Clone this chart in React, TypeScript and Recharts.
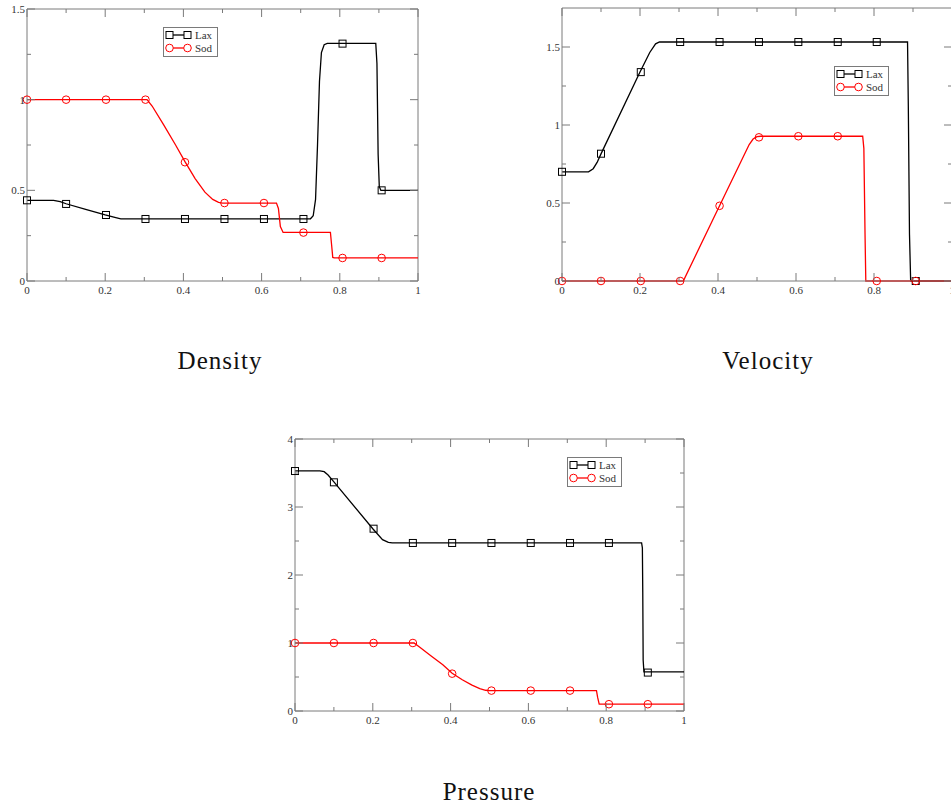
import React from 'react'
import { LineChart, Line, XAxis, YAxis, ReferenceLine } from 'recharts'

type Pt = [number, number]

const FRAME = '#7a7a7a'
const LABEL = '#333'
const FONT = '"Liberation Serif", "Times New Roman", serif'

const xTicks = [0, 0.1, 0.2, 0.3, 0.4, 0.5, 0.6, 0.7, 0.8, 0.9, 1]
const xLabels = [0, 0.2, 0.4, 0.6, 0.8, 1]

// x positions of the plotted symbols (same for every curve)
const markerX = [0, 0.1, 0.202, 0.303, 0.404, 0.505, 0.606, 0.707, 0.807, 0.907]

// Density
const densityYTicks = [0, 0.25, 0.5, 0.75, 1, 1.25, 1.5]
const densityYLabels = [0, 0.5, 1, 1.5]
const densityLax: Pt[] = [
  [0, 0.445], [0.068, 0.445], [0.085, 0.438], [0.1, 0.426], [0.15, 0.395], [0.2, 0.364],
  [0.222, 0.352], [0.24, 0.343], [0.725, 0.343], [0.732, 0.36], [0.738, 0.45], [0.743, 0.75],
  [0.748, 1.1], [0.753, 1.26], [0.76, 1.303], [0.768, 1.31], [0.892, 1.31], [0.895, 1.2],
  [0.898, 0.7], [0.901, 0.52], [0.905, 0.5], [1, 0.5],
]
const densitySod: Pt[] = [
  [0, 1], [0.307, 1], [0.32, 0.965], [0.35, 0.86], [0.38, 0.75], [0.404, 0.658],
  [0.43, 0.565], [0.455, 0.49], [0.475, 0.45], [0.49, 0.434], [0.5, 0.43], [0.638, 0.43],
  [0.643, 0.4], [0.648, 0.3], [0.655, 0.268], [0.776, 0.268], [0.779, 0.2], [0.782, 0.13],
  [0.786, 0.127], [1, 0.127],
]
const densityLaxMarks = [0.445, 0.425, 0.364, 0.342, 0.342, 0.342, 0.342, 0.342, 1.309, 0.5]
const densitySodMarks = [1, 1, 1, 1, 0.655, 0.43, 0.43, 0.267, 0.127, 0.127]

// Velocity
const velocityYTicks = [0, 0.25, 0.5, 0.75, 1, 1.25, 1.5]
const velocityYLabels = [0, 0.5, 1, 1.5]
const velocityLax: Pt[] = [
  [0, 0.7], [0.068, 0.7], [0.08, 0.72], [0.09, 0.76], [0.1, 0.815], [0.2, 1.34],
  [0.225, 1.465], [0.24, 1.52], [0.25, 1.532], [0.886, 1.532], [0.888, 1.12], [0.891, 0.3],
  [0.894, 0], [1, 0],
]
const velocitySod: Pt[] = [
  [0, 0], [0.311, 0], [0.404, 0.482], [0.48, 0.875], [0.49, 0.91], [0.5, 0.925],
  [0.51, 0.928], [0.771, 0.928], [0.774, 0.85], [0.777, 0.3], [0.779, 0], [1, 0],
]
const velocityLaxMarks = [0.7, 0.816, 1.339, 1.532, 1.532, 1.532, 1.532, 1.532, 1.532, 0]
const velocitySodMarks = [0, 0, 0, 0, 0.482, 0.921, 0.928, 0.928, 0, 0]

// Pressure
const pressureYTicks = [0, 0.5, 1, 1.5, 2, 2.5, 3, 3.5, 4]
const pressureYLabels = [0, 1, 2, 3, 4]
const pressureLax: Pt[] = [
  [0, 3.53], [0.064, 3.53], [0.075, 3.52], [0.085, 3.47], [0.1, 3.37], [0.2, 2.68],
  [0.225, 2.52], [0.24, 2.48], [0.25, 2.471], [0.891, 2.471], [0.893, 2.4], [0.894, 1.75],
  [0.895, 0.75], [0.897, 0.574], [1, 0.574],
]
const pressureSod: Pt[] = [
  [0, 1], [0.306, 1], [0.32, 0.94], [0.35, 0.81], [0.38, 0.68], [0.404, 0.555],
  [0.43, 0.46], [0.455, 0.38], [0.475, 0.33], [0.49, 0.305], [0.5, 0.3], [0.775, 0.3],
  [0.778, 0.2], [0.782, 0.1], [1, 0.1],
]
const pressureLaxMarks = [3.529, 3.363, 2.681, 2.471, 2.471, 2.471, 2.471, 2.471, 2.471, 0.565]
const pressureSodMarks = [1, 1, 1, 1, 0.549, 0.3, 0.3, 0.3, 0.1, 0.1]

const toRows = (pts: Pt[]) => pts.map(([x, y]) => ({ x, y }))
const toMarks = (ys: number[]) => ys.map((y, i) => ({ x: markerX[i], y }))

const W = 440
const H = 310
const AXIS_W = 27
const AXIS_H = 29

const SquareDot = (p: any) =>
  p.cx == null ? null : (
    <rect key={`sq${p.index}`} x={p.cx - 3.5} y={p.cy - 3.5} width={7} height={7} fill="none" stroke="#000" strokeWidth={1} />
  )
const CircleDot = (p: any) =>
  p.cx == null ? null : (
    <circle key={`ci${p.index}`} cx={p.cx} cy={p.cy} r={3.8} fill="none" stroke="#ff0000" strokeWidth={1} />
  )

function LegendBox({ left, top }: { left: number; top: number }) {
  return (
    <svg width={55} height={30} style={{ position: 'absolute', left, top }}>
      <rect x={0.5} y={0.5} width={54} height={29} fill="#fff" stroke={FRAME} />
      <line x1={6} y1={8} x2={25} y2={8} stroke="#000" strokeWidth={1.3} />
      <rect x={3} y={4.5} width={7} height={7} fill="#fff" stroke="#000" />
      <rect x={21} y={4.5} width={7} height={7} fill="#fff" stroke="#000" />
      <text x={32} y={12} fontSize={11} fontFamily={FONT} fill={LABEL}>Lax</text>
      <line x1={6} y1={21} x2={25} y2={21} stroke="#ff0000" strokeWidth={1.3} />
      <circle cx={6.5} cy={21} r={3.8} fill="#fff" stroke="#ff0000" />
      <circle cx={24.5} cy={21} r={3.8} fill="#fff" stroke="#ff0000" />
      <text x={32} y={25} fontSize={11} fontFamily={FONT} fill={LABEL}>Sod</text>
    </svg>
  )
}

interface PanelProps {
  left: number
  top: number
  plotTop: number
  plotRight: number
  yMax: number
  yTicks: number[]
  yLabels: number[]
  lax: Pt[]
  sod: Pt[]
  laxMarks: number[]
  sodMarks: number[]
  legend: { left: number; top: number }
}

function Panel({ left, top, plotTop, plotRight, yMax, yTicks, yLabels, lax, sod, laxMarks, sodMarks, legend }: PanelProps) {
  const pLeft = AXIS_W
  const pRight = W - plotRight
  const pTop = plotTop
  const pBottom = H - AXIS_H

  const xTick = (p: any) => {
    const v = p.payload.value
    const major = xLabels.includes(v)
    const len = major ? 8 : 4
    return (
      <g>
        <line x1={p.x} y1={pBottom} x2={p.x} y2={pBottom - len} stroke={FRAME} />
        <line x1={p.x} y1={pTop} x2={p.x} y2={pTop + len} stroke={FRAME} />
        {major && (
          <text x={p.x} y={pBottom + 13} textAnchor="middle" fontSize={11} fontFamily={FONT} fill={LABEL}>
            {String(v)}
          </text>
        )}
      </g>
    )
  }

  const yTick = (p: any) => {
    const v = p.payload.value
    const major = yLabels.includes(v)
    const len = major ? 8 : 4
    return (
      <g>
        <line x1={pLeft} y1={p.y} x2={pLeft + len} y2={p.y} stroke={FRAME} />
        <line x1={pRight} y1={p.y} x2={pRight - len} y2={p.y} stroke={FRAME} />
        {major && (
          <text x={pLeft - 2} y={p.y + 4} textAnchor="end" fontSize={11} fontFamily={FONT} fill={LABEL}>
            {String(v)}
          </text>
        )}
      </g>
    )
  }

  return (
    <div style={{ position: 'absolute', left, top, width: W, height: H }}>
      <LineChart width={W} height={H} margin={{ top: plotTop, right: plotRight, left: 0, bottom: 0 }}>
        <XAxis
          type="number"
          dataKey="x"
          domain={[0, 1]}
          ticks={xTicks}
          interval={0}
          height={AXIS_H}
          tickSize={0}
          tickMargin={0}
          tickLine={false}
          axisLine={{ stroke: FRAME }}
          tick={xTick}
        />
        <YAxis
          type="number"
          dataKey="y"
          domain={[0, yMax]}
          ticks={yTicks}
          interval={0}
          width={AXIS_W}
          tickSize={0}
          tickMargin={0}
          tickLine={false}
          axisLine={{ stroke: FRAME }}
          tick={yTick}
        />
        <ReferenceLine y={yMax} stroke={FRAME} />
        <ReferenceLine x={1} stroke={FRAME} />
        <Line data={toRows(lax)} dataKey="y" type="linear" stroke="#000" strokeWidth={1.3} dot={false} activeDot={false} isAnimationActive={false} />
        <Line data={toMarks(laxMarks)} dataKey="y" stroke="none" dot={SquareDot} activeDot={false} isAnimationActive={false} />
        <Line data={toRows(sod)} dataKey="y" type="linear" stroke="#ff0000" strokeWidth={1.3} dot={false} activeDot={false} isAnimationActive={false} />
        <Line data={toMarks(sodMarks)} dataKey="y" stroke="none" dot={CircleDot} activeDot={false} isAnimationActive={false} />
      </LineChart>
      <LegendBox left={legend.left} top={legend.top} />
    </div>
  )
}

function Title({ text, cx, baseline }: { text: string; cx: number; baseline: number }) {
  return (
    <div
      style={{
        position: 'absolute',
        left: cx - 100,
        width: 200,
        top: baseline - 21,
        textAlign: 'center',
        fontFamily: FONT,
        fontSize: 25,
        lineHeight: 1,
        letterSpacing: 1,
        color: '#111',
      }}
    >
      {text}
    </div>
  )
}

export default function App() {
  return (
    <div style={{ position: 'absolute', left: 0, top: 0, width: 951, height: 805, overflow: 'hidden', background: '#fff' }}>
      <Panel
        left={0}
        top={0}
        plotTop={9}
        plotRight={22}
        yMax={1.5}
        yTicks={densityYTicks}
        yLabels={densityYLabels}
        lax={densityLax}
        sod={densitySod}
        laxMarks={densityLaxMarks}
        sodMarks={densitySodMarks}
        legend={{ left: 163, top: 27 }}
      />
      <Panel
        left={535}
        top={0}
        plotTop={8}
        plotRight={23}
        yMax={1.75}
        yTicks={velocityYTicks}
        yLabels={velocityYLabels}
        lax={velocityLax}
        sod={velocitySod}
        laxMarks={velocityLaxMarks}
        sodMarks={velocitySodMarks}
        legend={{ left: 299, top: 66 }}
      />
      <Panel
        left={268}
        top={430}
        plotTop={9}
        plotRight={24}
        yMax={4}
        yTicks={pressureYTicks}
        yLabels={pressureYLabels}
        lax={pressureLax}
        sod={pressureSod}
        laxMarks={pressureLaxMarks}
        sodMarks={pressureSodMarks}
        legend={{ left: 299, top: 27 }}
      />
      <Title text="Density" cx={220} baseline={369} />
      <Title text="Velocity" cx={768} baseline={369} />
      <Title text="Pressure" cx={489} baseline={800} />
    </div>
  )
}
